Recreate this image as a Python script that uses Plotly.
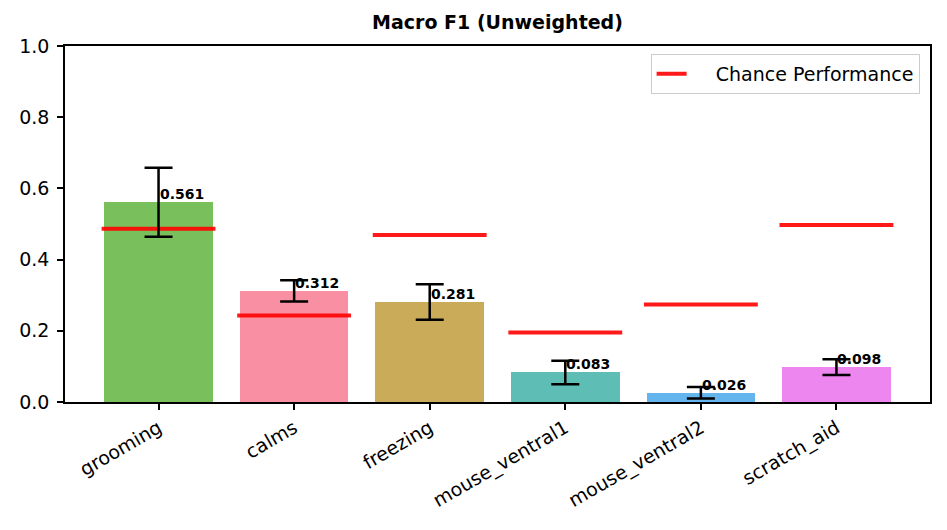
import plotly.graph_objects as go

categories = ["grooming", "calms", "freezing", "mouse_ventral1", "mouse_ventral2", "scratch_aid"]
f1_values = [0.561, 0.312, 0.281, 0.083, 0.026, 0.098]
f1_errors = [0.097, 0.030, 0.050, 0.033, 0.016, 0.022]
chance_values = [0.487, 0.243, 0.469, 0.195, 0.274, 0.497]
bar_colors = ["#79bf5b", "#f98fa3", "#c9ab5a", "#5ebdb5", "#64b4ee", "#ee86f0"]
y_ticks = [0.0, 0.2, 0.4, 0.6, 0.8, 1.0]

xs = list(range(len(categories)))
BAR_W = 0.8
CH_HALF = 0.42

W, H = 939, 522  # page body has an 8px margin

fig = go.Figure()

fig.add_trace(go.Bar(
    x=xs, y=f1_values, width=BAR_W,
    marker=dict(color=bar_colors, line=dict(width=0)),
    showlegend=False, hoverinfo="skip",
))

# value labels
for x, v in zip(xs, f1_values):
    fig.add_annotation(
        x=x, y=v, text=f"<b>{v:.3f}</b>", showarrow=False,
        xanchor="left", yanchor="bottom", xshift=-1, yshift=-2,
        font=dict(family="DejaVu Sans", size=14, color="black"),
    )

# chance lines
cx, cy = [], []
for x, c in zip(xs, chance_values):
    cx += [x - CH_HALF, x + CH_HALF, None]
    cy += [c, c, None]
fig.add_trace(go.Scatter(
    x=cx, y=cy, mode="lines", name="\u00a0\u00a0\u00a0\u00a0Chance Performance",
    line=dict(color="rgba(255,0,0,0.9)", width=4),
    hoverinfo="skip",
))

# error bars
fig.add_trace(go.Scatter(
    x=xs, y=f1_values, mode="markers",
    marker=dict(size=0.1, color="rgba(0,0,0,0)"),
    error_y=dict(type="data", array=f1_errors, symmetric=True,
                 color="black", thickness=2.5, width=14),
    showlegend=False, hoverinfo="skip",
))

fig.update_layout(
    width=W, height=H,
    margin=dict(l=57, r=17, t=38, b=128),
    paper_bgcolor="white", plot_bgcolor="white",
    font=dict(family="DejaVu Sans", size=19, color="black"),
    title=dict(text="<b>Macro F1 (Unweighted)</b>", x=0.5, xref="paper",
               xanchor="center", y=1 - 14 / H, yref="container", yanchor="middle",
               font=dict(family="DejaVu Sans", size=19, color="black")),
    legend=dict(x=0.988, y=0.978, xanchor="right", yanchor="top",
                bgcolor="rgba(255,255,255,0.8)", bordercolor="#cccccc", borderwidth=1,
                font=dict(family="DejaVu Sans", size=19, color="black")),
    bargap=0,
)

fig.update_xaxes(
    range=[-0.69, 5.69], tickmode="array", tickvals=xs, ticktext=categories,
    tickangle=-30, showline=True, linecolor="black", linewidth=1.5, mirror=True,
    ticks="outside", ticklen=6, tickwidth=1.5, tickcolor="black",
    showgrid=False, zeroline=False, tickfont=dict(size=19),
)
fig.update_yaxes(
    range=[0, 1.0], tickmode="array", tickvals=y_ticks,
    ticktext=[f"{t:.1f}" for t in y_ticks],
    showline=True, linecolor="black", linewidth=1.5, mirror=True,
    ticks="outside", ticklen=6, tickwidth=1.5, tickcolor="black",
    showgrid=False, zeroline=False, tickfont=dict(size=19),
    ticklabelstandoff=4,
)

fig.write_html("out.html")
